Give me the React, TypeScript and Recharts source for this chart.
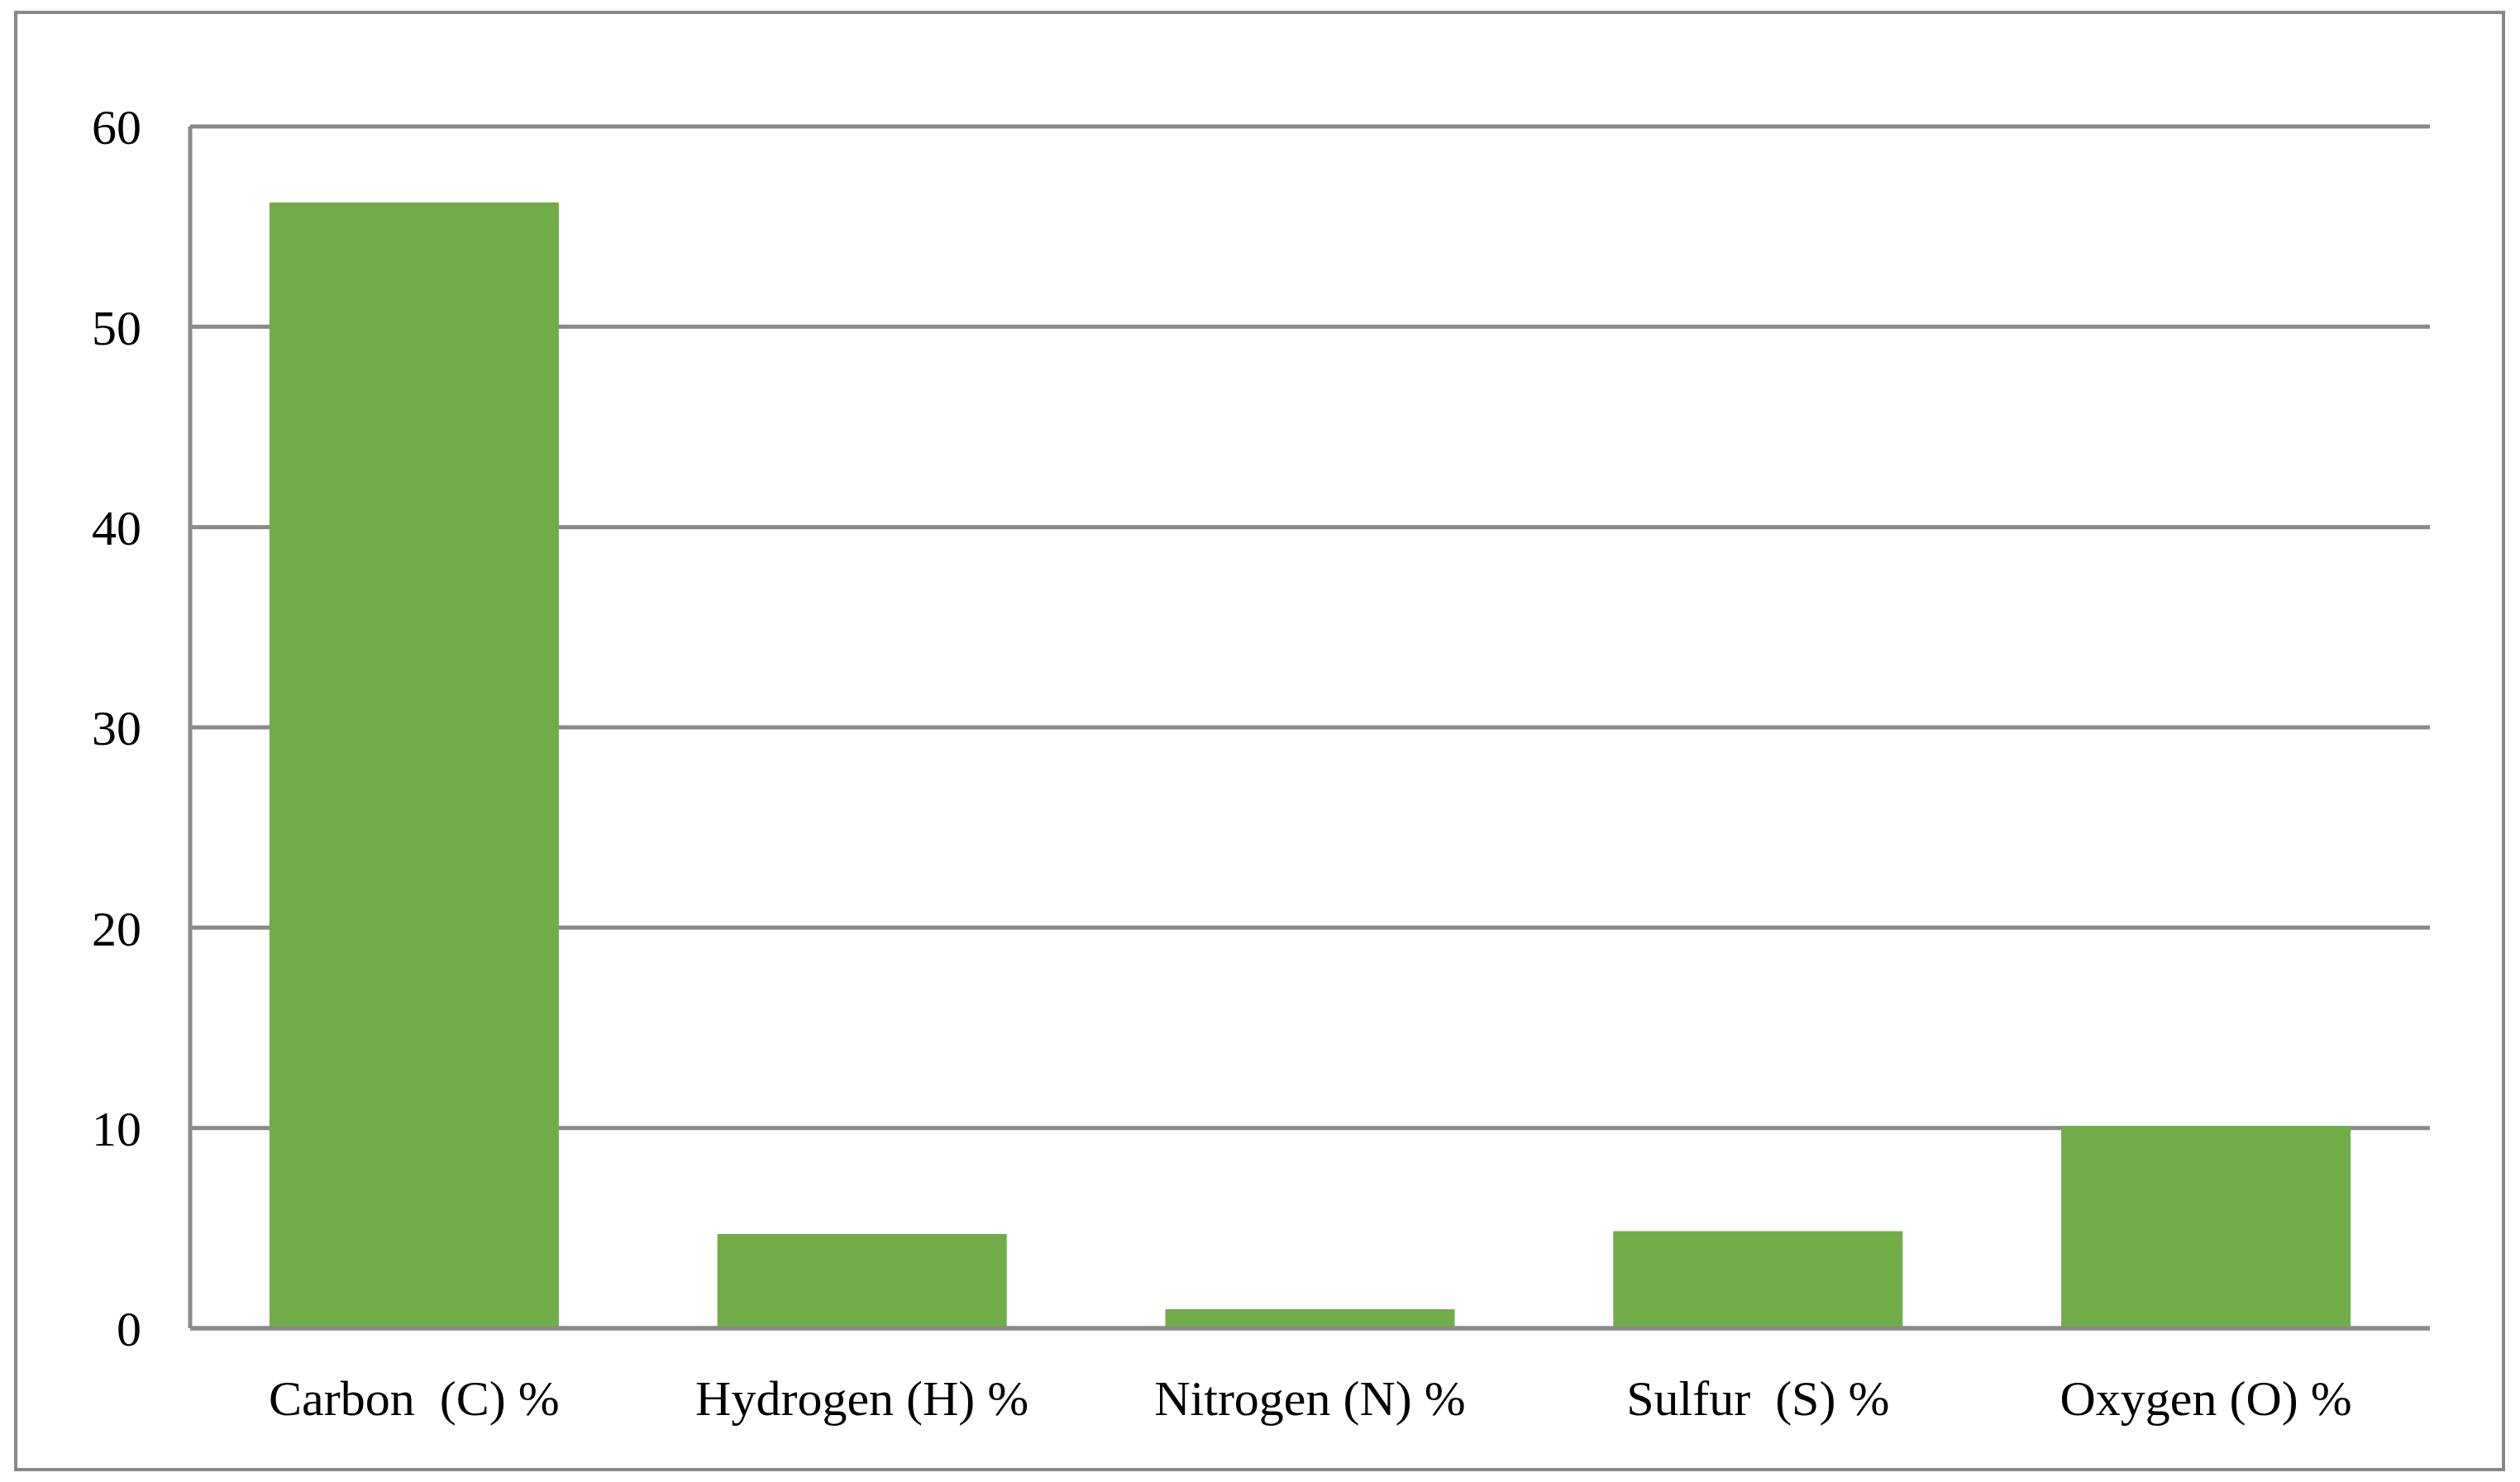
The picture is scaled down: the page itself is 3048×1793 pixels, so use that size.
import { BarChart, Bar, XAxis, YAxis, CartesianGrid } from "recharts";

const elements = [
  "Carbon  (C) %",
  "Hydrogen (H) %",
  "Nitrogen (N) %",
  "Sulfur  (S) %",
  "Oxygen (O) %",
];
const percents = [56.2, 4.7, 0.95, 4.85, 10.1];
const yTicks = [0, 10, 20, 30, 40, 50, 60];

const data = elements.map((name, i) => ({ name, value: percents[i] }));

const FONT = "'Liberation Serif', 'Times New Roman', serif";
const GRAY = "#898989";

function XTick({ x, y, payload }: any) {
  return (
    <text
      x={x}
      y={y}
      dy={43}
      textAnchor="middle"
      fill="#000"
      fontSize={60}
      fontFamily={FONT}
      style={{ whiteSpace: "pre" }}
    >
      {payload.value}
    </text>
  );
}

export default function App() {
  return (
    <div
      style={{
        position: "absolute",
        left: 0,
        top: 0,
        width: 3048,
        height: 1793,
        background: "#fff",
      }}
    >
      <div
        style={{
          position: "absolute",
          left: 17,
          top: 13,
          width: 3005,
          height: 1759,
          border: `4.5px solid ${GRAY}`,
        }}
      />
      <BarChart
        width={3048}
        height={1793}
        data={data}
        margin={{ top: 153, right: 109, left: 30, bottom: 66 }}
        barCategoryGap="17.7%"
        style={{ position: "absolute", left: 0, top: 0 }}
      >
        <CartesianGrid vertical={false} stroke={GRAY} strokeWidth={5} />
        <XAxis
          dataKey="name"
          height={120}
          tickLine={false}
          tickSize={0}
          tickMargin={62}
          axisLine={{ stroke: GRAY, strokeWidth: 5 }}
          tick={<XTick />}
          interval={0}
        />
        <YAxis
          width={200}
          domain={[0, 60]}
          ticks={yTicks}
          tickLine={false}
          tickSize={0}
          tickMargin={59}
          axisLine={{ stroke: GRAY, strokeWidth: 5 }}
          tick={{ fill: "#000", fontSize: 60, fontFamily: FONT }}
        />
        <Bar dataKey="value" fill="#70AD47" isAnimationActive={false} />
      </BarChart>
    </div>
  );
}
